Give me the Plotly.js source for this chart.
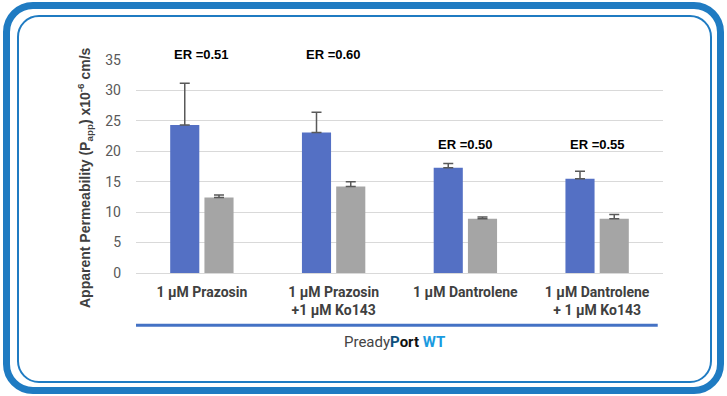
<!DOCTYPE html>
<html>
<head>
<meta charset="utf-8">
<script src="https://cdn.plot.ly/plotly-3.0.1.min.js"></script>
<style>
  html, body { margin: 0; padding: 0; background: #fff; }
  #wrap { position: relative; width: 727px; height: 396px; overflow: hidden; }
  #chart { position: absolute; left: 0; top: 0; width: 727px; height: 396px; }
  .frame { position: absolute; pointer-events: none; box-sizing: border-box; }
  #outer { left: 3px; top: 2px; width: 721px; height: 392px; border: 7px solid #1f7bc2; border-radius: 30px; }
  #inner { left: 17px; top: 15px; width: 695px; height: 368px; border: 2px solid #1f7bc2; border-radius: 22px; }
</style>
</head>
<body>
<div id="wrap">
  <div id="chart"></div>
  <div class="frame" id="outer"></div>
  <div class="frame" id="inner"></div>
</div>
<script>
const categories = [
  "1 μM Prazosin",
  "1 μM Prazosin<br>+1 μM Ko143",
  "1 μM Dantrolene",
  "1 μM Dantrolene<br>+ 1 μM Ko143"
];
const blueValues = [24.3, 23.1, 17.3, 15.5];
const blueErrors = [6.9, 3.3, 0.7, 1.2];
const grayValues = [12.4, 14.2, 8.9, 8.9];
const grayErrors = [0.4, 0.8, 0.3, 0.7];
const erLabels = ["ER =0.51", "ER =0.60", "ER =0.50", "ER =0.55"];
const erHeights = [35.9, 35.9, 21.1, 21.1];
const yTicks = [0, 5, 10, 15, 20, 25, 30, 35];
const yMax = 35;

const xIdx = categories.map((c, i) => i);

const errStyle = { color: "#595959", thickness: 1.5, width: 5 };

const traces = [
  {
    type: "bar", x: xIdx, y: blueValues,
    marker: { color: "#5470c4" },
    error_y: Object.assign({ type: "data", array: blueErrors, arrayminus: blueErrors.map(() => 0), symmetric: false }, errStyle),
    hoverinfo: "skip"
  },
  {
    type: "bar", x: xIdx, y: grayValues,
    marker: { color: "#a5a5a5" },
    error_y: Object.assign({ type: "data", array: grayErrors, arrayminus: grayErrors.map(() => 0), symmetric: false }, errStyle),
    hoverinfo: "skip"
  }
];

const narrow = "Liberation Sans Narrow, Arial Narrow, Liberation Sans, Arial, sans-serif";

const annotations = erLabels.map((t, i) => ({
  x: i, y: erHeights[i] / yMax, xref: "x", yref: "paper",
  text: "<b>" + t + "</b>", showarrow: false,
  font: { family: narrow, size: 13, color: "#000" },
  yanchor: "middle", xanchor: "center"
}));

annotations.push({
  xref: "paper", yref: "paper", x: -0.097, y: 0.45,
  text: "<b>Apparent Permeability (P<sub>app</sub>) x10<sup>-6</sup> cm/s</b>",
  textangle: -90, showarrow: false,
  font: { family: narrow, size: 14, color: "#404040" },
  xanchor: "center", yanchor: "middle"
});

annotations.push({
  xref: "paper", yref: "paper", x: 0.491, y: -0.325,
  text: "<span style='color:#444'>Pready</span><b><span style='color:#0e4f7c'>P</span><span style='color:#111'>ort</span></b> <b><span style='color:#1a9be0'>WT</span></b>",
  showarrow: false,
  font: { family: "Roboto, sans-serif", size: 15, color: "#444" },
  xanchor: "center", yanchor: "middle"
});

const layout = {
  width: 727, height: 396,
  margin: { l: 136, r: 64, t: 60, b: 123 },
  paper_bgcolor: "rgba(0,0,0,0)",
  plot_bgcolor: "rgba(0,0,0,0)",
  showlegend: false,
  barmode: "group",
  bargap: 0.48,
  bargroupgap: 0.15,
  xaxis: {
    range: [-0.5, 3.5],
    tickmode: "array", tickvals: xIdx, ticktext: categories.map(c => "<b>" + c + "</b>"),
    tickfont: { family: "Roboto, sans-serif", size: 14, color: "#404040" },
    showgrid: false, zeroline: false, showline: false, ticks: "",
    ticklabelstandoff: 9
  },
  yaxis: {
    range: [0, yMax],
    tickmode: "array", tickvals: yTicks,
    tickfont: { family: "Roboto, sans-serif", size: 14, color: "#595959" },
    showgrid: true, gridcolor: "#d9d9d9", gridwidth: 1,
    zeroline: true, zerolinecolor: "#d9d9d9", zerolinewidth: 1,
    showline: false, ticks: "",
    ticklabelstandoff: 14
  },
  shapes: [
    { type: "line", xref: "paper", yref: "paper", x0: 0, x1: 0.99, y0: -0.245, y1: -0.245,
      line: { color: "#4472c4", width: 3 } }
  ],
  annotations: annotations
};

Plotly.newPlot("chart", traces, layout, { displayModeBar: false, staticPlot: true });
</script>
</body>
</html>
